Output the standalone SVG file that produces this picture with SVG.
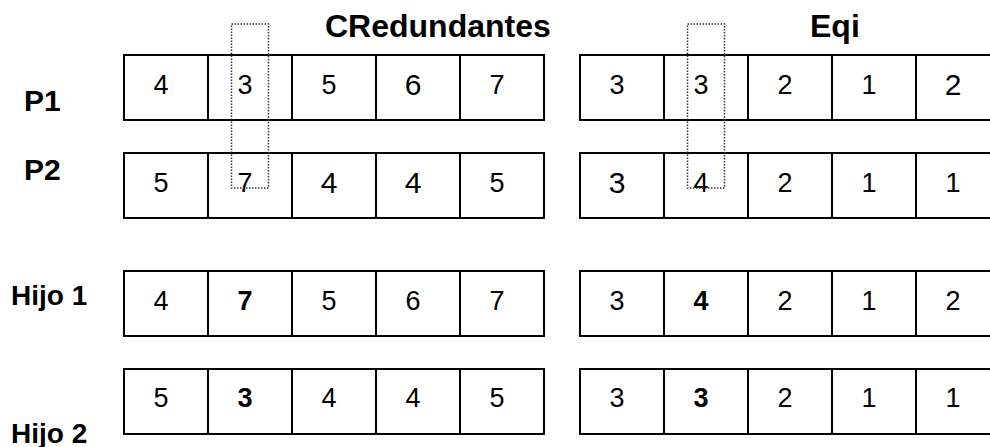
<svg xmlns="http://www.w3.org/2000/svg" width="990" height="447" viewBox="0 0 990 447">
<style>
.cell{fill:#fff;stroke:#000;stroke-width:2}
.d{font-family:"Liberation Sans",Arial,sans-serif;font-size:27px;text-anchor:middle;fill:#000}
.L{font-size:30px}
.b{font-weight:bold}
.lbl{font-family:"Liberation Sans",Arial,sans-serif;font-weight:bold;font-size:30px;fill:#000}
.hl{font-size:28px}
.ttl{font-family:"Liberation Sans",Arial,sans-serif;font-weight:bold;font-size:32px;fill:#000}
.dot{fill:none;stroke:#333;stroke-width:1.5;stroke-dasharray:1.5 1.5}
</style>
<defs>
<g id="row">
<rect class="cell" x="0" y="0" width="84" height="65"/>
<rect class="cell" x="84" y="0" width="84" height="65"/>
<rect class="cell" x="168" y="0" width="84" height="65"/>
<rect class="cell" x="252" y="0" width="84" height="65"/>
<rect class="cell" x="336" y="0" width="84" height="65"/>
</g>
</defs>
<g id="titles">
<text class="ttl" x="325" y="37">CRedundantes</text>
<text class="ttl" x="810" y="37">Eqi</text>
</g>
<g id="labels">
<text class="lbl" x="24" y="111">P1</text>
<text class="lbl" x="24" y="180">P2</text>
<text class="lbl hl" x="11" y="305">Hijo 1</text>
<text class="lbl hl" x="11" y="443">Hijo 2</text>
</g>
<g id="p1-cred">
<use href="#row" x="124" y="55"/>
<text class="d" x="161" y="94">4</text>
<text class="d" x="245" y="94">3</text>
<text class="d" x="329" y="94">5</text>
<text class="d L" x="413" y="95">6</text>
<text class="d" x="497" y="94">7</text>
</g>
<g id="p1-eqi">
<use href="#row" x="580" y="55"/>
<text class="d" x="617" y="94">3</text>
<text class="d" x="701" y="94">3</text>
<text class="d" x="785" y="94">2</text>
<text class="d" x="869" y="94">1</text>
<text class="d L" x="953" y="95">2</text>
</g>
<g id="p2-cred">
<use href="#row" x="124" y="153"/>
<text class="d" x="161" y="192">5</text>
<text class="d" x="245" y="192">7</text>
<text class="d L" x="329" y="193">4</text>
<text class="d L" x="413" y="193">4</text>
<text class="d" x="497" y="192">5</text>
</g>
<g id="p2-eqi">
<use href="#row" x="580" y="153"/>
<text class="d L" x="617" y="193">3</text>
<text class="d" x="701" y="192">4</text>
<text class="d" x="785" y="192">2</text>
<text class="d" x="869" y="192">1</text>
<text class="d" x="953" y="192">1</text>
</g>
<g id="h1-cred">
<use href="#row" x="124" y="271"/>
<text class="d" x="161" y="310">4</text>
<text class="d b" x="245" y="310">7</text>
<text class="d" x="329" y="310">5</text>
<text class="d" x="413" y="310">6</text>
<text class="d" x="497" y="310">7</text>
</g>
<g id="h1-eqi">
<use href="#row" x="580" y="271"/>
<text class="d" x="617" y="310">3</text>
<text class="d b" x="701" y="310">4</text>
<text class="d" x="785" y="310">2</text>
<text class="d" x="869" y="310">1</text>
<text class="d" x="953" y="310">2</text>
</g>
<g id="h2-cred">
<use href="#row" x="124" y="369"/>
<text class="d" x="161" y="407">5</text>
<text class="d b" x="245" y="407">3</text>
<text class="d" x="329" y="407">4</text>
<text class="d" x="413" y="407">4</text>
<text class="d" x="497" y="407">5</text>
</g>
<g id="h2-eqi">
<use href="#row" x="580" y="369"/>
<text class="d" x="617" y="407">3</text>
<text class="d b" x="701" y="407">3</text>
<text class="d" x="785" y="407">2</text>
<text class="d" x="869" y="407">1</text>
<text class="d" x="953" y="407">1</text>
</g>
<g id="connectors">
<rect class="dot" x="231.5" y="24" width="37" height="164"/>
<rect class="dot" x="687.5" y="24" width="37" height="164"/>
</g>
</svg>
